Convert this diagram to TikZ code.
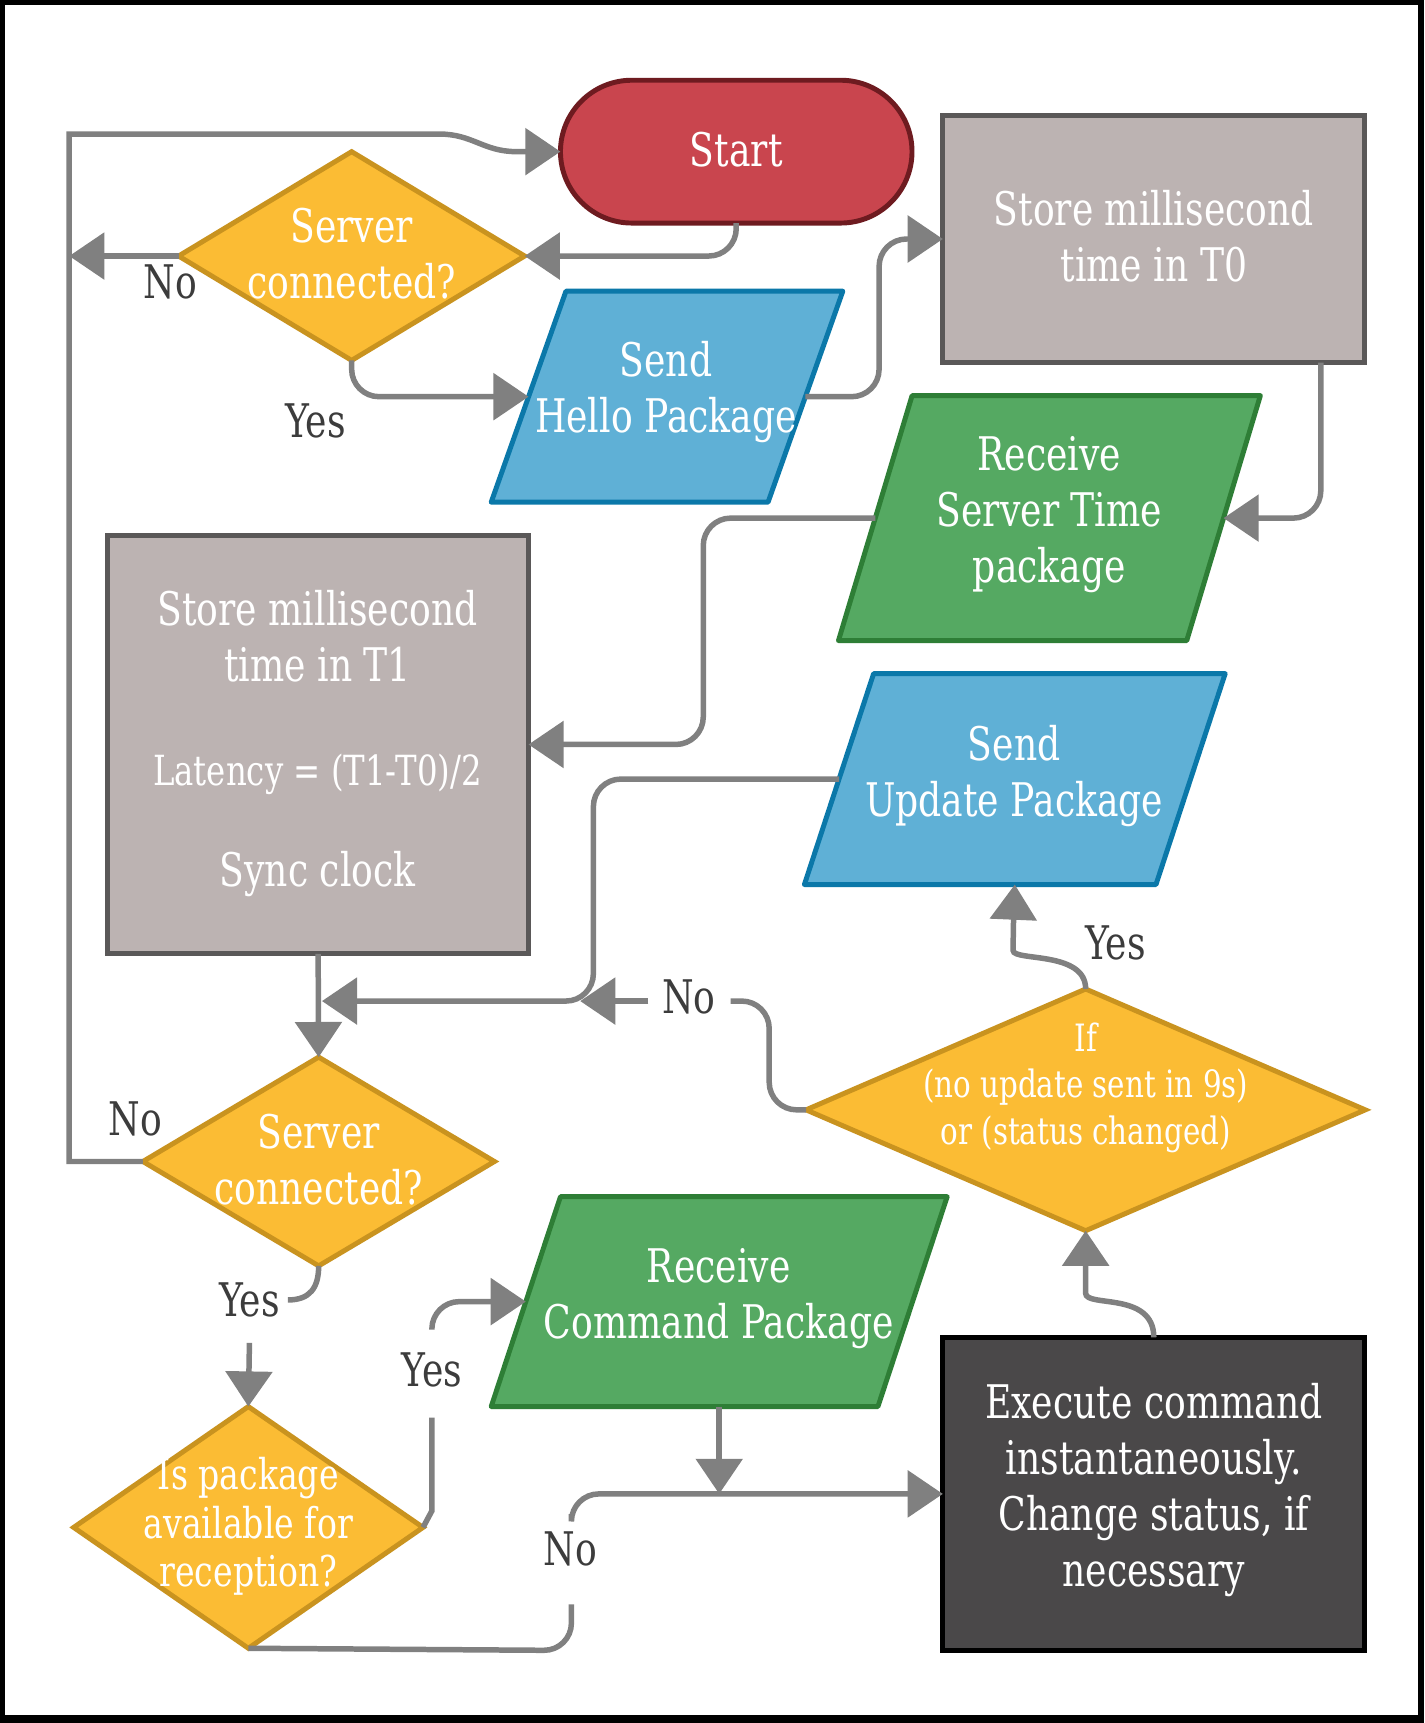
\documentclass[tikz,border=0pt]{standalone}
\usepackage{fontspec}
\setmainfont{DejaVu Serif}[FakeStretch=0.78]
\usetikzlibrary{shapes.geometric,arrows.meta,calc}
\definecolor{cRed}{HTML}{C9454E}
\definecolor{cRedD}{HTML}{6E1B20}
\definecolor{cYel}{HTML}{FBBC34}
\definecolor{cYelD}{HTML}{C9931F}
\definecolor{cBlue}{HTML}{5FB0D6}
\definecolor{cBlueD}{HTML}{0B78A9}
\definecolor{cGray}{HTML}{BCB3B2}
\definecolor{cGrayD}{HTML}{5A5858}
\definecolor{cGreen}{HTML}{55A962}
\definecolor{cGreenD}{HTML}{2E7E36}
\definecolor{cDark}{HTML}{4A4849}
\definecolor{cConn}{HTML}{808080}
\definecolor{cLab}{HTML}{3C3C3C}
\newcommand{\drawpgram}[4]{\filldraw[line width=0.09cm, fill=#3, draw=#4, line join=round]
  ($(#1.north west)+(#2/2,0)$) -- ($(#1.north east)+(#2/2,0)$) --
  ($(#1.south east)-(#2/2,0)$) -- ($(#1.south west)-(#2/2,0)$) -- cycle;}
\begin{document}
\begin{tikzpicture}[x=0.02cm,y=-0.02cm,
  shp/.style={line width=0.09cm, inner sep=0pt, outer sep=0pt},
  box/.style={shp, rectangle},
  dia/.style={shp, diamond, fill=cYel, draw=cYelD},
  para/.style={shp, rectangle},
  txt/.style={text=white, align=center, inner sep=0pt, font=\fontsize{24pt}{29pt}\selectfont},
  lab/.style={text=cLab, inner sep=1pt, font=\fontsize{24pt}{29pt}\selectfont},
  cline/.style={draw=cConn, line width=0.1cm, rounded corners=0.5cm},
  conn/.style={cline, -{Triangle[length=0.64cm,width=0.84cm]}}
]
% frame
\fill[black] (0,0) rectangle (1296,1568);
\fill[white] (5,5) rectangle (1290,1561);
\useasboundingbox (0,0) rectangle (1296,1568);

% shapes
\node[box, fill=cRed, draw=cRedD, rounded corners=1.3cm, minimum width=6.4cm, minimum height=2.6cm] (start) at (670,138) {};
\node[dia, minimum width=6.3cm, minimum height=3.8cm] (d1) at (320,233) {};
\node[para, minimum width=5.04cm, minimum height=3.84cm] (hello) at (607,361) {};
\drawpgram{hello}{68}{cBlue}{cBlueD}
\node[box, fill=cGray, draw=cGrayD, minimum width=7.68cm, minimum height=4.5cm] (t0) at (1050,217.5) {};
\node[para, minimum width=6.34cm, minimum height=4.46cm] (rst) at (955,471.5) {};
\drawpgram{rst}{67}{cGreen}{cGreenD}
\node[box, fill=cGray, draw=cGrayD, minimum width=7.66cm, minimum height=7.62cm] (t1) at (289.5,677.5) {};
\node[para, minimum width=6.4cm, minimum height=3.84cm] (upd) at (923.5,709) {};
\drawpgram{upd}{63}{cBlue}{cBlueD}
\node[dia, minimum width=6.4cm, minimum height=3.8cm] (d2) at (290,1057) {};
\node[dia, minimum width=10.18cm, minimum height=4.4cm] (dif) at (988,1010) {};
\node[para, minimum width=7.04cm, minimum height=3.82cm] (rcmd) at (654.5,1184.5) {};
\drawpgram{rcmd}{63}{cGreen}{cGreenD}
\node[dia, minimum width=6.36cm, minimum height=4.4cm] (dpk) at (226,1390) {};
\node[box, fill=cDark, draw=black, minimum width=7.68cm, minimum height=5.7cm] (exe) at (1050,1359.5) {};

% coordinates for free ends
\coordinate (lpL) at (63,233);
\coordinate (m1) at (293,911);
\coordinate (m2) at (528,911);
\coordinate (y2a) at (262,1183);
\coordinate (y2b) at (227,1222);
\coordinate (y3a) at (393,1290);
\coordinate (y3b) at (393,1210);
\coordinate (n3a) at (520,1460);
\coordinate (n3b) at (520,1378);

% connectors
\draw[conn] (start.south) |- (d1.east);
\draw[conn] (d1.west) -- (lpL);
\draw[conn, sharp corners] (d2.west) -- (63,1057) -- (63,122) -- (400,122) .. controls (430,122) and (440,138) .. (470,138) -- (start.west);
\draw[conn] (d1.south) |- (hello.west);
\draw[conn] (hello.east) -- (800,361) |- (t0.west);
\draw[conn] ($(t0.south)+(152,0)$) |- (rst.east);
\draw[conn] (rst.west) -- (640,471.5) |- (t1.east);
\draw[conn] (t1.south) -- (d2.north);
\draw[conn] (upd.west) -- (540,709) |- (m1);
\draw[cline] (dif.west) -- (700,1010) |- (665,911);
\draw[conn] (590,911) -- (m2);
\draw[conn] (dif.north) .. controls (988,865) and (922,875) .. (922,840) -- (upd.south);
\draw[conn] (exe.north) .. controls (1050,1175) and (988,1190) .. (988,1152) -- (dif.south);
\draw[cline] (d2.south) .. controls (290,1172) and (282,1183) .. (y2a);
\draw[conn] (y2b) -- (dpk.north);
\draw[cline] (dpk.east) .. controls (393,1375) .. (393,1350) -- (y3a);
\draw[conn] (y3b) |- (rcmd.west);
\draw[cline] (dpk.south) -- (520,1502) -- (n3a);
\draw[conn] (n3b) |- (exe.west);
\draw[conn] (rcmd.south) -- (rcmd.south |- exe.west);

% texts
\node[txt] (tStart) at (670,136) {Start};
\node[txt] (tD1) at (320,231) {Server\\connected?};
\node[txt] (tHello) at (606,357) {Send\\Hello Package};
\node[txt] (tT0) at (1050,215) {Store millisecond\\time in T0};
\node[txt] (tRst) at (955,468) {Receive\\Server Time\\package};
\node[txt] (tT1a) at (289,579) {Store millisecond\\time in T1};
\node[txt, font=\fontsize{21.5pt}{26pt}\selectfont] (tT1b) at (289,705) {Latency = (T1-T0)/2};
\node[txt] (tT1c) at (289,795) {Sync clock};
\node[txt] (tUpd) at (923,706) {Send\\Update Package};
\node[txt] (tD2) at (290,1055) {Server\\connected?};
\node[txt, font=\fontsize{19.5pt}{24pt}\selectfont] (tDif) at (988,990) {If\\(no update sent in 9s)\\or (status changed)};
\node[txt] (tRcmd) at (654,1182) {Receive\\Command Package};
\node[txt, font=\fontsize{22pt}{25pt}\selectfont] (tDpk) at (226,1389) {Is package\\available for\\reception?};
\node[txt] (tExe) at (1050,1356) {Execute command\\instantaneously.\\Change status, if\\necessary};

% labels
\node[lab] (lNo1) at (155,257) {No};
\node[lab] (lYes1) at (287,383) {Yes};
\node[lab] (lNo2) at (627,907) {No};
\node[lab] (lYes2) at (1015,858) {Yes};
\node[lab] (lNo3) at (123,1018) {No};
\node[lab] (lYes3) at (227,1183) {Yes};
\node[lab] (lYes4) at (393,1247) {Yes};
\node[lab] (lNo4) at (519,1410) {No};
\end{tikzpicture}
\end{document}
